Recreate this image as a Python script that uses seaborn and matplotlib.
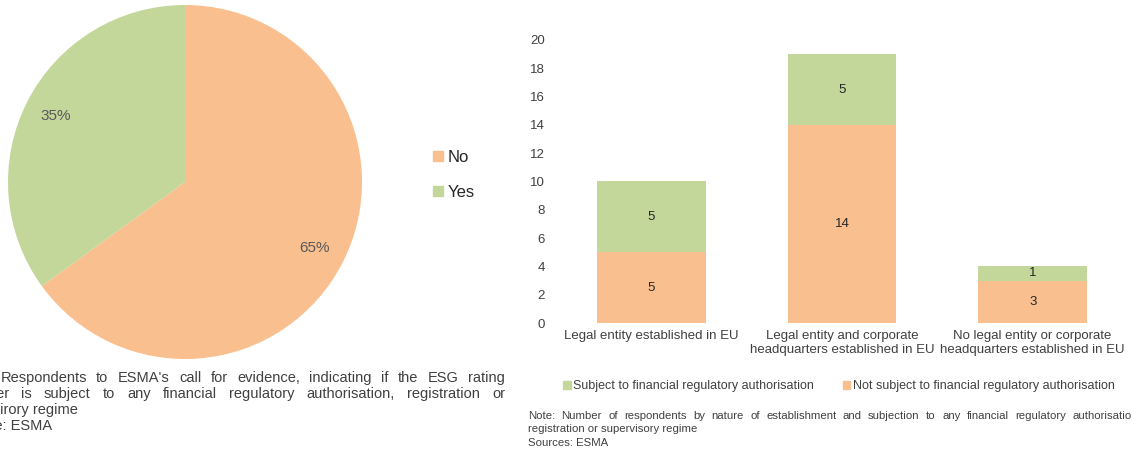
import matplotlib
matplotlib.use('Agg')
import matplotlib.pyplot as plt
import seaborn as sns
import pandas as pd
from matplotlib.patches import Patch

sns.set_style('white')
plt.rcParams['font.family'] = ['Liberation Sans', 'DejaVu Sans']

# Pie data
pie_labels = ['No', 'Yes']
pie_values = [65, 35]

# Stacked bar data
categories = ['Legal entity established in EU',
              'Legal entity and corporate\nheadquarters established in EU',
              'No legal entity or corporate\nheadquarters established in EU']
not_subject = [5, 14, 3]
subject = [5, 5, 1]

left_note = ["Note: Respondents to ESMA's call for evidence, indicating if the ESG rating",
             "provider is subject to any financial regulatory authorisation, registration or",
             "supervirory regime",
             "Source: ESMA"]
right_note = ["Note: Number of respondents by nature of establishment and subjection to any financial regulatory authorisation,",
              "registration or supervisory regime",
              "Sources: ESMA"]

orange = '#F9BF8F'
green = '#C4D79B'
grey = '#404040'

W, H = 1131, 450
fig = plt.figure(figsize=(W / 100, H / 100), dpi=100)
renderer = fig.canvas.get_renderer()


def px_axes(x0, y0, w, h):
    # pixel box (top-left origin) to figure fraction
    return fig.add_axes([x0 / W, (H - y0 - h) / H, w / W, h / H])


def justified(lines, x0, x1, y0, step, n_just, **kw):
    # first n_just lines stretched to span x0..x1 (pixels), rest left aligned
    for k, line in enumerate(lines):
        y = (H - y0 - k * step) / H
        if k >= n_just:
            fig.text(x0 / W, y, line, ha='left', va='baseline', **kw)
            continue
        words = line.split(' ')
        objs = [fig.text(0, y, w_, ha='left', va='baseline', **kw) for w_ in words]
        widths = [o.get_window_extent(renderer).width for o in objs]
        gap = (x1 - x0 - sum(widths)) / (len(words) - 1)
        x = x0
        for o, wd in zip(objs, widths):
            o.set_x(x / W)
            x += wd + gap


# Pie chart
ax1 = px_axes(8, 5, 354, 354)
ax1.pie(pie_values, colors=[orange, green], startangle=90, counterclock=False,
        autopct='%1.0f%%', pctdistance=0.82, wedgeprops={'linewidth': 0},
        textprops={'color': '#595959', 'fontsize': 11})
ax1.set_xlim(-1, 1)
ax1.set_ylim(-1, 1)
ax1.set_aspect('equal')
fig.legend(handles=[Patch(color=orange, label=pie_labels[0]),
                    Patch(color=green, label=pie_labels[1])],
           loc='center left', bbox_to_anchor=(418 / W, (H - 175) / H), frameon=False,
           fontsize=12, handlelength=0.6, handleheight=0.6, handletextpad=0.3,
           labelspacing=1.2)

justified(left_note, -44, 505, 382, 16, 2, fontsize=10.5, color=grey)

# Stacked bar chart
ax2 = px_axes(556, 40, 572, 283)
df = pd.DataFrame({'category': categories, 'Not subject': not_subject, 'Subject': subject})
df['total'] = df['Not subject'] + df['Subject']
sns.barplot(data=df, x='category', y='total', color=green, width=0.57,
            saturation=1, linewidth=0, ax=ax2)
sns.barplot(data=df, x='category', y='Not subject', color=orange, width=0.57,
            saturation=1, linewidth=0, ax=ax2)
for i in range(len(categories)):
    ax2.text(i, not_subject[i] / 2, str(not_subject[i]), ha='center', va='center', fontsize=9.5)
    ax2.text(i, not_subject[i] + subject[i] / 2, str(subject[i]), ha='center', va='center',
             fontsize=9.5)
ax2.set_ylim(0, 20)
ax2.set_xlim(-0.5, 2.5)
ax2.set_yticks(range(0, 21, 2))
ax2.set_xlabel('')
ax2.set_ylabel('')
ax2.tick_params(axis='both', labelsize=9.5, colors=grey, length=0)
ax2.tick_params(axis='y', pad=8)
ax2.tick_params(axis='x', pad=5)
sns.despine(ax=ax2, left=True, bottom=True)

fig.legend(handles=[Patch(color=green, label='Subject to financial regulatory authorisation'),
                    Patch(color=orange, label='Not subject to financial regulatory authorisation')],
           loc='center left', bbox_to_anchor=(552 / W, (H - 386) / H), ncol=2, frameon=False,
           fontsize=9, handlelength=0.6, handleheight=0.6, handletextpad=0.2,
           columnspacing=2.3, labelcolor=grey)

justified(right_note, 528, 1141, 419, 13.5, 1, fontsize=8.2, color=grey)

fig.savefig('out.png', dpi=100)
